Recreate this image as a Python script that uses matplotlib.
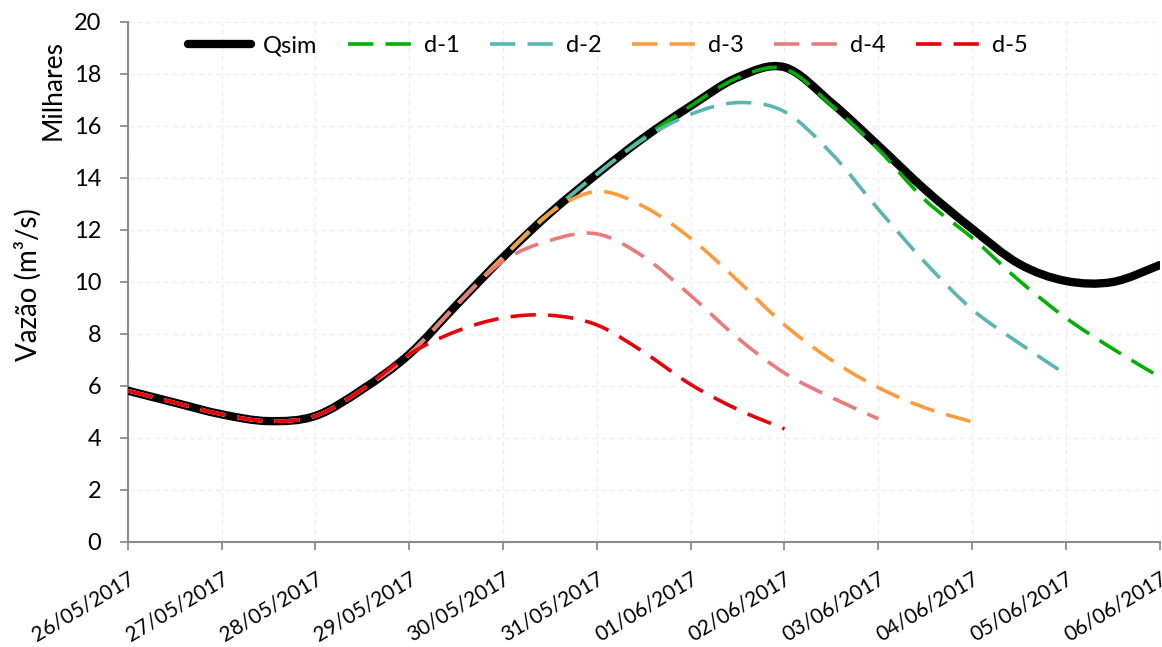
import numpy as np
import pandas as pd
import matplotlib
matplotlib.use("Agg")
import matplotlib.pyplot as plt
import matplotlib.dates as mdates
from matplotlib.path import Path
from matplotlib.patches import PathPatch
from matplotlib.lines import Line2D

plt.rcParams['font.family'] = ['Lato', 'DejaVu Sans']

# 12-hourly values (thousands of m3/s), starting 26/05/2017 00h
times = pd.date_range("2017-05-26", periods=23, freq="12h")

qsim = [5.82, 5.36, 4.91, 4.65, 4.85, 5.87, 7.22, 9.1, 10.95, 12.65, 14.15, 15.55,
        16.77, 17.87, 18.26, 16.9, 15.25, 13.55, 12.05, 10.7, 10.04, 10.0, 10.65]
d1 = [5.82, 5.36, 4.91, 4.65, 4.85, 5.87, 7.22, 9.1, 10.95, 12.65, 14.15, 15.55,
      16.77, 17.85, 18.2, 16.8, 15.1, 13.15, 11.7, 10.06, 8.62, 7.43, 6.35]
d2 = [5.82, 5.36, 4.91, 4.65, 4.85, 5.87, 7.22, 9.1, 10.95, 12.65, 14.15, 15.5,
      16.45, 16.9, 16.55, 14.95, 12.8, 10.75, 8.95, 7.65, 6.45]
d3 = [5.82, 5.36, 4.91, 4.65, 4.85, 5.87, 7.22, 9.1, 10.95, 12.65, 13.48, 12.9,
      11.68, 10.06, 8.35, 7.0, 5.94, 5.16, 4.62]
d4 = [5.82, 5.36, 4.91, 4.65, 4.85, 5.87, 7.22, 9.1, 10.8, 11.6, 11.85, 10.97,
      9.48, 7.85, 6.5, 5.56, 4.74]
d5 = [5.82, 5.36, 4.91, 4.65, 4.85, 5.87, 7.22, 8.1, 8.62, 8.72, 8.35, 7.3,
      6.06, 5.1, 4.35]

series_names = ['Qsim', 'd-1', 'd-2', 'd-3', 'd-4', 'd-5']
series_values = [qsim, d1, d2, d3, d4, d5]
colors = ['#000000', '#00B000', '#5BB5B0', '#FF9B3D', '#E97B7B', '#E8000B']

tick_dates = pd.date_range("2017-05-26", "2017-06-06", freq="D")
tick_labels = [d.strftime("%d/%m/%Y") for d in tick_dates]


def smooth_path(x, y):
    # excel-like smoothed line: cubic bezier through the points
    pts = np.column_stack([x, y])
    n = len(pts)
    verts = [pts[0]]
    codes = [Path.MOVETO]
    for i in range(n - 1):
        p0 = pts[i - 1] if i > 0 else pts[i]
        p1 = pts[i]
        p2 = pts[i + 1]
        p3 = pts[i + 2] if i + 2 < n else pts[i + 1]
        verts += [p1 + (p2 - p0) / 6, p2 - (p3 - p1) / 6, p2]
        codes += [Path.CURVE4] * 3
    return Path(verts, codes)


fig = plt.figure(figsize=(11.62, 6.47), dpi=100)
ax = fig.add_axes([0.110, 0.1623, 0.888, 0.8037])

xnum = mdates.date2num(times)
handles = []
for k, (name, vals, c) in enumerate(zip(series_names, series_values, colors)):
    xs = xnum[:len(vals)]
    if name == 'Qsim':
        lw, ls, cap = 6.0, '-', 'round'
    else:
        lw, ls, cap = 2.6, (0, (7, 3.4)), 'butt'
    patch = PathPatch(smooth_path(xs, np.array(vals)), fill=False, edgecolor=c,
                      linewidth=lw, linestyle=ls, capstyle=cap, zorder=3 + k)
    ax.add_patch(patch)
    handles.append(Line2D([], [], color=c, lw=lw, ls=ls, solid_capstyle=cap,
                          dash_capstyle=cap, label=name))

ax.set_xlim(mdates.date2num(tick_dates[0]), mdates.date2num(tick_dates[-1]))
ax.set_ylim(0, 20)
ax.set_yticks(np.arange(0, 21, 2))
ax.set_xticks(mdates.date2num(tick_dates))
ax.set_xticklabels(tick_labels, rotation=31, ha='right', va='top',
                   rotation_mode='anchor', fontsize=15)
ax.tick_params(axis='x', pad=13)
ax.tick_params(axis='y', labelsize=17, pad=13)
ax.tick_params(direction='out', length=6, width=1.3, color='#8C8C8C')

for s in ['top', 'right']:
    ax.spines[s].set_visible(False)
for s in ['left', 'bottom']:
    ax.spines[s].set_color('#8C8C8C')
    ax.spines[s].set_linewidth(1.5)

ax.grid(True, color='#EEEEEE', lw=0.9, ls=(0, (4, 3)), zorder=0)
ax.set_axisbelow(True)

ax.set_ylabel('Vazão (m³/s)', fontsize=20)
ax.yaxis.set_label_coords(-0.083, 0.495)
fig.text(0.046, 0.861, 'Milhares', rotation=90, fontsize=19, ha='center', va='center')

ax.legend(handles=handles, loc='center left', bbox_to_anchor=(0.058, 0.954),
          ncol=6, frameon=False, fontsize=17, handlelength=2.7, handletextpad=0.5,
          columnspacing=1.3, borderpad=0, borderaxespad=0)

fig.savefig('out.png', dpi=100)
